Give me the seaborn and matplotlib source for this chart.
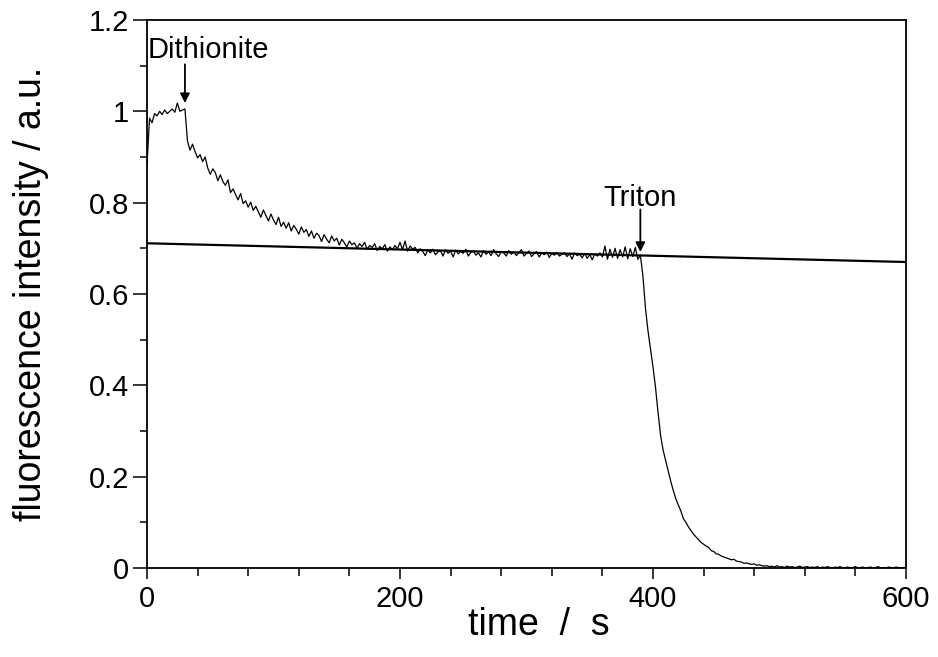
import numpy as np
import pandas as pd
import matplotlib
matplotlib.use("Agg")
import matplotlib.pyplot as plt
import seaborn as sns
from matplotlib.ticker import MultipleLocator, FuncFormatter

step_s = 2
seg_baseline = [0.88, 0.985, 0.975, 0.995, 0.99, 1.0, 0.993, 1.003, 0.995, 1.0,
                1.005, 0.998, 1.018, 1.0, 1.003, 1.005]                      # t = 0..30
seg_dithionite = [0.935, 0.915, 0.928, 0.912, 0.898, 0.905, 0.89, 0.9, 0.876, 0.862,
                  0.874, 0.866, 0.848, 0.861, 0.846, 0.838, 0.85, 0.822, 0.83, 0.818,
                  0.806, 0.82, 0.798, 0.804, 0.79, 0.801, 0.783, 0.792, 0.78, 0.768,
                  0.784, 0.772, 0.76, 0.775, 0.762, 0.752, 0.768, 0.748, 0.757, 0.744,
                  0.756, 0.738, 0.75, 0.742, 0.731, 0.747, 0.735, 0.741, 0.726, 0.738,
                  0.722, 0.733, 0.728, 0.715, 0.73, 0.72, 0.712, 0.727, 0.716, 0.722,
                  0.707, 0.72, 0.712, 0.703, 0.716, 0.708, 0.712, 0.7, 0.71, 0.704,
                  0.713, 0.698, 0.706, 0.702, 0.71, 0.695, 0.704, 0.699, 0.708, 0.694,
                  0.703, 0.697, 0.706, 0.699, 0.713, 0.697, 0.716, 0.694, 0.705, 0.698]  # t = 32..210
seg_plateau = [0.702, 0.69, 0.699, 0.693, 0.684, 0.697, 0.69, 0.698, 0.686, 0.692,
               0.695, 0.683, 0.697, 0.689, 0.694, 0.681, 0.696, 0.688, 0.693, 0.689,
               0.698, 0.683, 0.691, 0.694, 0.685, 0.69, 0.681, 0.695, 0.687, 0.692,
               0.684, 0.697, 0.688, 0.682, 0.693, 0.69, 0.683, 0.695, 0.687, 0.692,
               0.684, 0.691, 0.697, 0.683, 0.689, 0.694, 0.682, 0.688, 0.693, 0.681,
               0.69, 0.686, 0.692, 0.68, 0.689, 0.685, 0.691, 0.683, 0.687, 0.69,
               0.682, 0.688, 0.676, 0.69, 0.684, 0.687, 0.679, 0.689, 0.678, 0.686,
               0.675, 0.688, 0.683, 0.69, 0.681, 0.705, 0.676, 0.698, 0.68, 0.7,
               0.678, 0.697, 0.681, 0.703, 0.677, 0.699, 0.682, 0.702, 0.676, 0.685]  # t = 212..390
seg_triton = [0.64, 0.57, 0.52, 0.48, 0.44, 0.395, 0.34, 0.29, 0.258, 0.235,
              0.212, 0.19, 0.17, 0.152, 0.138, 0.125, 0.108, 0.1, 0.09, 0.082,
              0.074, 0.068, 0.062, 0.056, 0.052, 0.048, 0.045, 0.038, 0.036, 0.031,
              0.03, 0.026, 0.024, 0.022, 0.02, 0.018, 0.019, 0.015, 0.014, 0.013,
              0.01, 0.011, 0.009, 0.008, 0.009, 0.006, 0.007, 0.005, 0.004, 0.005]  # t = 392..490
seg_tail = [0.003, 0.004, 0.002, 0.005, 0.002, 0.003, 0.001, 0.004, 0.002, 0.003,
            0.001, 0.002, 0.004, 0.001, 0.002, 0.003, 0.001, 0.002, 0.001, 0.003,
            0.0, 0.002, 0.001, 0.003, 0.001, 0.0, 0.002, 0.001, 0.003, 0.0,
            0.001, 0.002, 0.0, 0.001, 0.003, 0.0, 0.001, 0.002, 0.0, 0.001,
            0.002, 0.0, 0.001, 0.003, 0.0, 0.001, 0.0, 0.002, 0.001, 0.0,
            0.002, 0.001, 0.0, 0.001, 0.0]                                   # t = 492..600

intensity = seg_baseline + seg_dithionite + seg_plateau + seg_triton + seg_tail
time_s = np.arange(len(intensity)) * step_s

ref_time = [0, 600]
ref_value = [0.711, 0.670]

x_ticks = [0, 200, 400, 600]
y_ticks = [0, 0.2, 0.4, 0.6, 0.8, 1.0, 1.2]

# ---- plotting ----
sns.set_style("ticks")
plt.rcParams["font.family"] = ["Liberation Sans", "DejaVu Sans"]
FS_TICK = 21
FS_LABEL = 27
FS_NOTE = 21

fig = plt.figure(figsize=(9.38, 6.57), dpi=100)
ax = fig.add_axes([0.1567, 0.1355, 0.8092, 0.8341])

df = pd.DataFrame({"time": time_s, "intensity": intensity})
ref = pd.DataFrame({"time": ref_time, "intensity": ref_value})
sns.lineplot(data=df, x="time", y="intensity", color="black", lw=0.9, ax=ax)
sns.lineplot(data=ref, x="time", y="intensity", color="black", lw=1.6, ax=ax)

ax.set_xlim(0, 600)
ax.set_ylim(0, 1.2)
ax.set_xticks(x_ticks)
ax.set_yticks(y_ticks)
ax.xaxis.set_minor_locator(MultipleLocator(40))
ax.yaxis.set_minor_locator(MultipleLocator(0.1))
ax.yaxis.set_major_formatter(FuncFormatter(lambda v, p: f"{v:g}"))
ax.tick_params(axis="both", which="both", direction="out", color="black",
               width=1.1, labelsize=FS_TICK, labelcolor="black")
ax.tick_params(axis="y", which="major", length=10, pad=3)
ax.tick_params(axis="y", which="minor", length=5)
ax.tick_params(axis="x", which="major", length=8, pad=4)
ax.tick_params(axis="x", which="minor", length=6)
for s in ax.spines.values():
    s.set_visible(True)
    s.set_color("black")
    s.set_linewidth(1.3)

ax.set_xlabel("time  /  s", fontsize=FS_LABEL, color="black")
ax.set_ylabel("fluorescence intensity / a.u.", fontsize=FS_LABEL, color="black")
ax.xaxis.set_label_coords(0.516, -0.104)
ax.xaxis.label.set_va("center")
ax.yaxis.set_label_coords(-0.153, 0.501)
ax.yaxis.label.set_va("center")

# labels with arrows
ax.text(0.5, 1.135, "Dithionite", fontsize=FS_NOTE, ha="left", va="center", color="black")
ax.annotate("", xy=(30, 1.018), xytext=(30, 1.103),
            arrowprops=dict(arrowstyle="-|>", color="black", lw=1.3, mutation_scale=14,
                            shrinkA=0, shrinkB=0))
ax.text(390, 0.81, "Triton", fontsize=FS_NOTE, ha="center", va="center", color="black")
ax.annotate("", xy=(390, 0.692), xytext=(390, 0.785),
            arrowprops=dict(arrowstyle="-|>", color="black", lw=1.3, mutation_scale=14,
                            shrinkA=0, shrinkB=0))

fig.savefig("out.png", dpi=100)
